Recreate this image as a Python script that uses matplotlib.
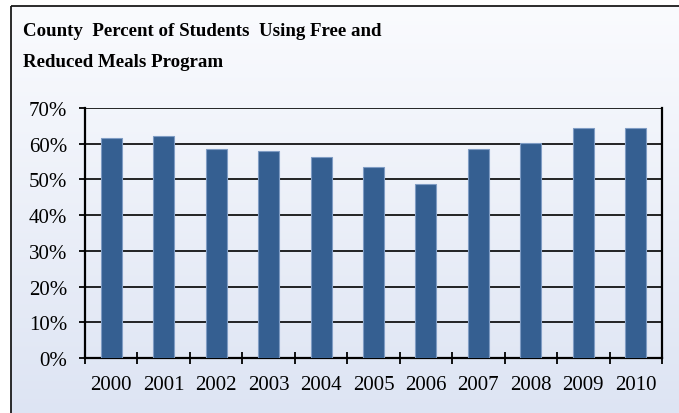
import numpy as np
import matplotlib
matplotlib.use("Agg")
import matplotlib.pyplot as plt
from matplotlib.patches import Rectangle
from matplotlib.ticker import FixedLocator, PercentFormatter

years = ["2000", "2001", "2002", "2003", "2004", "2005",
         "2006", "2007", "2008", "2009", "2010"]
pct_free_reduced = [61.5, 62.1, 58.4, 57.9, 56.2, 53.6,
                    48.8, 58.4, 60.1, 64.3, 64.3]
title_lines = ["County  Percent of Students  Using Free and",
               "Reduced Meals Program"]

W, H = 679, 414
fig = plt.figure(figsize=(W / 100, H / 100), dpi=100)
fig.patch.set_facecolor("white")

# chart-area background: soft vertical gradient inside a dark frame
bg = fig.add_axes([0, 0, 1, 1], zorder=0)
bg.set_xlim(0, W)
bg.set_ylim(H, 0)
bg.axis("off")
top_c = np.array([250, 251, 254]) / 255
bot_c = np.array([221, 228, 243]) / 255
t = np.linspace(0, 1, 256)[:, None, None]
grad = top_c * (1 - t) + bot_c * t
bg.imshow(grad, extent=[11, W + 5, H + 5, 7], aspect="auto", zorder=0)
bg.add_patch(Rectangle((11, 7), W, H, fill=False, edgecolor="#1a1a1a",
                       linewidth=1.3, zorder=1))

serif = ["Liberation Serif", "DejaVu Serif"]
fig.text(23 / W, 1 - 36 / H, title_lines[0], family=serif, weight="bold",
         fontsize=13.6, va="baseline", ha="left")
fig.text(23 / W, 1 - 67 / H, title_lines[1], family=serif, weight="bold",
         fontsize=13.6, va="baseline", ha="left")

ax = fig.add_axes([85 / W, 1 - 359 / H, (662 - 85) / W, (359 - 109) / H],
                  zorder=2)
ax.set_facecolor("none")
x = np.arange(len(years))
ax.bar(x, pct_free_reduced, width=0.4, color="#355F91",
       edgecolor="#7F9CC4", linewidth=0.8, zorder=3)

ax.set_xlim(-0.5, len(years) - 0.5)
ax.set_ylim(0, 70)
ax.yaxis.set_major_locator(FixedLocator(np.arange(0, 71, 10)))
ax.yaxis.set_major_formatter(PercentFormatter(decimals=0))
ax.grid(axis="y", color="black", linewidth=1.2, zorder=1)

ax.set_xticks(x)
ax.set_xticklabels(years)
ax.set_xticks(np.arange(-0.5, len(years), 1.0), minor=True)
ax.tick_params(axis="x", which="major", length=0, pad=12,
               labelsize=15, labelfontfamily=serif)
ax.tick_params(axis="x", which="minor", direction="inout", length=8,
               width=1.3, color="black")
ax.tick_params(axis="y", direction="out", length=4, width=1.3,
               pad=9, labelsize=15, labelfontfamily=serif)

for side in ["left", "bottom", "right"]:
    ax.spines[side].set_linewidth(1.6)
    ax.spines[side].set_color("black")
ax.spines["top"].set_visible(False)

fig.savefig("out.png", dpi=100)
